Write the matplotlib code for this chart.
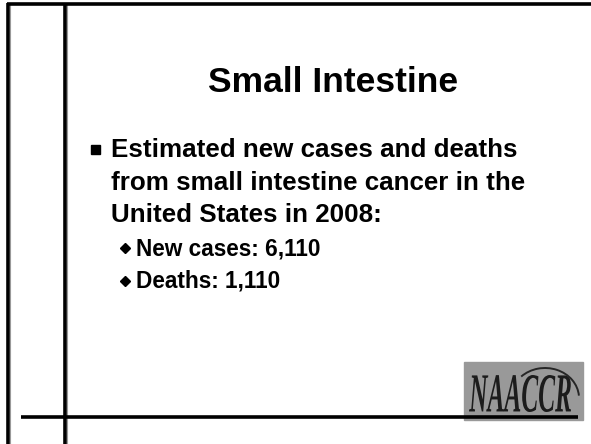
import numpy as np
import matplotlib
matplotlib.use("Agg")
import matplotlib.pyplot as plt
from matplotlib.patches import Rectangle, PathPatch, Arc
from matplotlib.textpath import TextPath
from matplotlib.font_manager import FontProperties
from matplotlib.transforms import Affine2D

W, H = 591, 444

title = "Small Intestine"
main_lines = ["Estimated new cases and deaths",
              "from small intestine cancer in the",
              "United States in 2008:"]
sub_lines = ["New cases: 6,110", "Deaths: 1,110"]
logo_text = "NAACCR"

fig = plt.figure(figsize=(W/100, H/100), dpi=100)
ax = fig.add_axes([0, 0, 1, 1])
ax.set_xlim(0, W)
ax.set_ylim(H, 0)
ax.axis("off")

# frame lines
def line(x, y, lw=2.6):
    ax.plot(x, y, color="black", lw=lw, solid_capstyle="butt", zorder=3)

line([8, 8], [3, H])
line([6.7, W], [4, 4])
line([65, 65], [3, H])
ax.plot([66.8, 66.8], [5, H], color="#999999", lw=0.8)
ax.plot([9.8, 9.8], [5, H], color="#999999", lw=0.8)

font = "Liberation Sans"
ax.text(333, 92, title, fontsize=25.5, fontweight="bold", family=font,
        ha="center", va="baseline")

# main bullet
ax.add_patch(Rectangle((91, 145), 9, 9, color="black"))
for i in range(len(main_lines)):
    ax.text(111, 157 + i*32.5, main_lines[i], fontsize=18.7, fontweight="bold",
            family=font, ha="left", va="baseline")

# sub bullets
for i in range(len(sub_lines)):
    yb = 255 + i*32.5
    ax.plot(124.5, yb - 7, marker="D", ms=5.5, color="black")
    ax.text(136, yb, sub_lines[i], fontsize=16.3, fontweight="bold",
            family=font, ha="left", va="baseline")

# logo
ax.add_patch(Rectangle((464, 362), 119, 58, color="#999999", zorder=1))
fp = FontProperties(family="Liberation Serif", style="italic", weight="bold")
tp = TextPath((0, 0), logo_text, size=1, prop=fp)
bb = tp.get_extents()
sx = 102 / bb.width
sy = 37 / bb.height
tr = Affine2D().translate(-bb.x0, -bb.y0).scale(sx, -sy).translate(469, 412)
ax.add_patch(PathPatch(tr.transform_path(tp), color="#1c1c1c", lw=0, zorder=2))
ax.add_patch(Arc((545, 398), 68, 60, theta1=222, theta2=356, color="#262626",
                 lw=1.4, zorder=2))

line([21, 578], [417, 417])

fig.savefig("out.png", dpi=100)
